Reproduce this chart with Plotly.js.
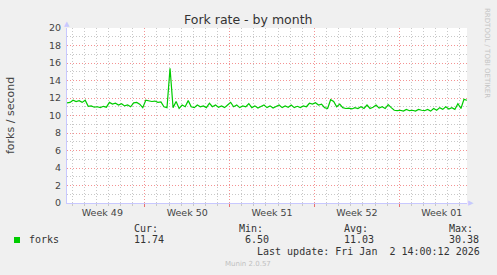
<!DOCTYPE html>
<html>
<head>
<meta charset="utf-8">
<script src="https://cdn.plot.ly/plotly-3.0.1.min.js"></script>
<style>html,body{margin:0;padding:0;background:#f0f0f0;}#chart{width:497px;height:275px;}</style>
</head>
<body>
<div id="chart"></div>
<script>
// ---- data ----
const seriesName = "forks";
const startTime = "2025-11-30 14:00";   // left edge of the graph (now - 33 days)
const endTime = "2026-01-02 14:00";     // last update
const sampleHours = 6;                  // spacing of the samples below
const forks = [
  11.45, 11.5, 11.75, 11.6, 11.7, 11.5, 11.75, 11.05, 11.1, 10.95,
  11.0, 10.9, 11.05, 10.95, 11.5, 11.3, 11.4, 11.2, 11.35, 11.1,
  11.2, 11.0, 11.45, 11.5, 11.3, 10.9, 11.75, 11.7, 11.6, 11.65,
  11.5, 11.55, 11.0, 10.9, 15.4, 10.9, 11.6, 10.8, 11.2, 11.0,
  11.7, 11.0, 10.9, 11.2, 11.0, 11.1, 10.9, 11.4, 11.0, 11.2,
  10.95, 11.1, 10.9, 11.2, 11.5, 11.0, 11.2, 10.9, 11.1, 11.0,
  11.35, 10.9, 11.1, 10.85, 11.0, 11.2, 10.9, 11.1, 10.85, 11.0,
  11.2, 10.9, 11.1, 10.95, 11.2, 10.9, 11.05, 10.9, 11.1, 11.0,
  11.4, 11.3, 11.45, 11.2, 11.3, 10.9, 10.8, 11.8, 11.6, 11.0,
  11.3, 10.9, 10.8, 10.85, 10.75, 10.9, 10.8, 11.0, 10.8, 11.2,
  10.8, 10.95, 11.2, 10.85, 11.0, 10.8, 11.25, 10.9, 10.6, 10.55,
  10.6, 10.5, 10.7, 10.55, 10.6, 10.5, 10.7, 10.6, 10.55, 10.7,
  10.5, 10.8, 10.6, 10.9, 10.7, 11.0, 10.75, 10.9, 10.7, 11.35,
  10.8, 11.85, 11.74
];
const weekTickVals = ["2025-12-03 12:00", "2025-12-10 12:00", "2025-12-17 12:00", "2025-12-24 12:00", "2025-12-31 12:00"];
const weekTickText = ["Week 49", "Week 50", "Week 51", "Week 52", "Week 01"];
const weekStart = "2025-11-30 00:00";
const legendHeaders = ["Cur:", "Min:", "Avg:", "Max:"];
const legendValues = ["11.74", " 6.50", "11.03", "30.38"];
const lastUpdate = "Last update: Fri Jan\u00a0\u00a02 14:00:12 2026";
const titleText = "Fork rate - by month";
const yTitle = "forks / second";
const watermark = "RRDTOOL / TOBI OETIKER";
const footer = "Munin 2.0.57";

// ---- build time axis values ----
const toMs = s => new Date(s.replace(" ", "T") + ":00Z").getTime();
function fmt(ms) { return new Date(ms).toISOString().slice(0, 16).replace("T", " "); }
const t0 = toMs(startTime);
const times = forks.map((_, i) => fmt(t0 + i * sampleHours * 3600000));
const DAY = 86400000;
// daily grid positions, skipping the week boundaries (drawn red)
const dayTicks = [];
for (let d = toMs(weekStart), k = 0; d <= toMs(endTime); d += DAY, k++) {
  if (k % 7 !== 0) dayTicks.push(fmt(d));
}

// ---- geometry helpers (pixel -> paper) ----
const W = 497, H = 275, L = 67, R = 467, T = 28, B = 203;
const px = x => (x - L) / (R - L);
const py = y => (B - y) / (B - T);

const mono = "DejaVu Sans Mono, monospace";
const sans = "DejaVu Sans, sans-serif";

const annotations = [
  {text: titleText, x: px(248), y: py(19), font: {family: sans, size: 12.5, color: "#333"}},
  {text: yTitle, x: px(10.5), y: py(115.5), textangle: -90, font: {family: sans, size: 11, color: "#444"}},
  {text: watermark, x: px(487), y: py(53), textangle: 90, font: {family: sans, size: 7, color: "#c4c4c4"}},
  {text: "\u25B2", x: px(67), y: py(24), font: {family: sans, size: 7, color: "#c8c8ff"}},
  {text: "\u25B6", x: px(471), y: py(203), font: {family: sans, size: 7, color: "#c8c8ff"}},
  {text: seriesName, x: px(27), y: py(239.5), xanchor: "left", font: {family: mono, size: 10, color: "#333"}},
  {text: lastUpdate, x: px(482), y: py(251), xanchor: "right", font: {family: mono, size: 10, color: "#333"}},
  {text: footer, x: px(248), y: py(264), font: {family: sans, size: 7, color: "#c0c0c0"}}
];
const colX = [131.5, 237, 342, 447];
legendHeaders.forEach((h, i) => {
  annotations.push({text: h, x: px(colX[i]), y: py(228), xanchor: "left", font: {family: mono, size: 10, color: "#333"}});
  annotations.push({text: legendValues[i].replace(/ /g, "\u00a0"), x: px(colX[i]), y: py(239.5), xanchor: "left", font: {family: mono, size: 10, color: "#333"}});
});
annotations.forEach(a => { a.xref = "paper"; a.yref = "paper"; a.showarrow = false; if (!a.xanchor) a.xanchor = "center"; a.yanchor = "middle"; });

const traces = [
  {x: [times[0]], y: [null], type: "scatter", mode: "lines", xaxis: "x3", yaxis: "y",
   showlegend: false, hoverinfo: "skip"},
  {x: [times[0]], y: [null], type: "scatter", mode: "lines", xaxis: "x2", yaxis: "y",
   showlegend: false, hoverinfo: "skip"},
  {x: times, y: forks, type: "scatter", mode: "lines", name: seriesName,
   line: {color: "#00cc00", width: 1.2}, hoverinfo: "skip", xaxis: "x", yaxis: "y"}
];

const majorGrid = "rgba(240,110,110,0.75)";
const minorGrid = "#c8c8c8";
const dots = "1px,2px";

const layout = {
  width: W, height: H,
  margin: {l: L, r: W - R, t: T, b: H - B, pad: 0},
  paper_bgcolor: "#f0f0f0", plot_bgcolor: "#ffffff",
  showlegend: false,
  // daily gray grid
  xaxis3: {
    type: "date", overlaying: "x", anchor: "y", side: "bottom", range: [startTime, endTime], fixedrange: true,
    tickmode: "array", tickvals: dayTicks,
    showticklabels: false, showgrid: true, gridcolor: minorGrid, griddash: dots, gridwidth: 1,
    ticks: "outside", ticklen: 2, tickcolor: "#c8c8c8", showline: false, zeroline: false
  },
  // weekly red grid
  xaxis: {
    type: "date", range: [startTime, endTime], fixedrange: true,
    tickmode: "linear", tick0: weekStart, dtick: 7 * DAY,
    showticklabels: false, showgrid: true, gridcolor: majorGrid, griddash: dots, gridwidth: 1,
    ticks: "outside", ticklen: 3, tickcolor: "#e87070", tickwidth: 1,
    showline: true, linecolor: "#c8c8ff", linewidth: 1, zeroline: false
  },
  // week labels
  xaxis2: {
    type: "date", overlaying: "x", anchor: "y", side: "bottom", range: [startTime, endTime], fixedrange: true,
    tickmode: "array", tickvals: weekTickVals, ticktext: weekTickText,
    showgrid: false, showline: false, ticks: "", zeroline: false, ticklabelstandoff: 2,
    tickfont: {family: sans, size: 9.5, color: "#444"}
  },
  yaxis: {
    range: [0, 20], fixedrange: true, tickmode: "linear", tick0: 0, dtick: 2,
    showgrid: true, gridcolor: majorGrid, griddash: dots, gridwidth: 1,
    minor: {dtick: 1, showgrid: true, gridcolor: minorGrid, griddash: dots, gridwidth: 1},
    ticks: "outside", ticklen: 3, tickcolor: "rgba(0,0,0,0)",
    showline: true, linecolor: "#c8c8ff", linewidth: 1, zeroline: false,
    tickfont: {family: sans, size: 9.5, color: "#444"}
  },
  shapes: [
    {type: "rect", xref: "paper", yref: "paper", x0: px(14), x1: px(20), y0: py(243), y1: py(237),
     fillcolor: "#00cc00", line: {width: 0}}
  ],
  annotations: annotations
};

Plotly.newPlot("chart", traces, layout, {displayModeBar: false, staticPlot: true});
</script>
</body>
</html>
